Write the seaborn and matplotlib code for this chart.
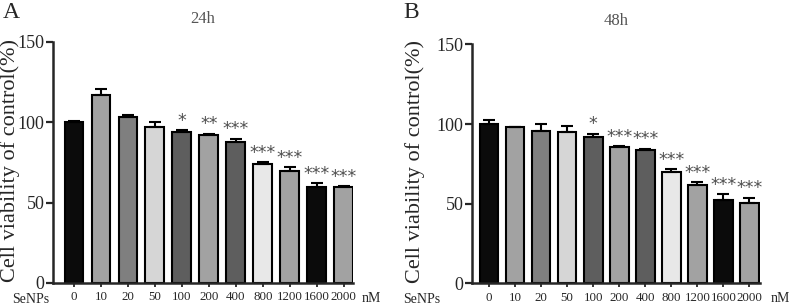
"""Two-panel bar chart of SeNPs cell viability at 24 h and 48 h."""

import matplotlib

matplotlib.use("Agg")
import matplotlib.pyplot as plt
import pandas as pd
import seaborn as sns

doses = ["0", "10", "20", "50", "100", "200", "400", "800", "1200", "1600", "2000"]
bar_colors = ["#0b0b0b", "#a2a2a2", "#7f7f7f", "#d6d6d6", "#5e5e5e", "#a2a2a2",
              "#5e5e5e", "#e8e8e8", "#a2a2a2", "#0b0b0b", "#a2a2a2"]

viability_24h = [100, 117, 103, 97, 94, 92, 87.7, 74, 70, 60, 59.5]
error_24h = [0.6, 3.8, 1.5, 3.0, 1.2, 1.0, 2.2, 1.3, 2.2, 2.0, 0.6]
stars_24h = ["", "", "", "", "*", "**", "***", "***", "***", "***", "***"]

viability_48h = [100.3, 98, 95.8, 95, 92, 85.4, 83.7, 69.7, 61.7, 52.3, 50.2]
error_48h = [2.2, 0.4, 4.0, 3.5, 2.0, 0.6, 0.8, 1.8, 1.8, 3.6, 3.4]
stars_48h = ["", "", "", "", "*", "***", "***", "***", "***", "***", "***"]

sns.set_theme(style="ticks")
plt.rcParams["font.family"] = ["Liberation Serif", "DejaVu Serif"]

W, H = 792, 306
fig = plt.figure(figsize=(W / 100, H / 100), dpi=100)

# letter, title, values, errors, stars, axes rect, xlim, bar width,
# ylabel x (axes coords), pixel x of panel letter, "SeNPs" and "nM"
panels = [
    ("A", "24h", viability_24h, error_24h, stars_24h,
     [0.0669, 0.0752, 0.379, 0.7876], (-0.78, 10.35), 0.7, -0.11, 3, 12, 362),
    ("B", "48h", viability_48h, error_48h, stars_48h,
     [0.596, 0.074, 0.364, 0.781], (-0.65, 10.42), 0.72, -0.163, 403, 403, 771),
]

for (letter, title, values, errors, stars, rect, xlim, width,
     label_x, letter_px, senps_px, nm_px) in panels:
    ax = fig.add_axes(rect)
    frame = pd.DataFrame({"dose": doses, "viability": values})
    sns.barplot(data=frame, x="dose", y="viability", hue="dose", palette=bar_colors,
                order=doses, width=width, edgecolor="black", linewidth=1.5,
                legend=False, ax=ax)
    xs = range(len(doses))
    ax.errorbar(xs, values, yerr=[[0] * len(errors), errors], fmt="none",
                ecolor="black", elinewidth=1.5, capsize=4, capthick=1.5, zorder=1)
    for x, v, e, s in zip(xs, values, errors, stars):
        if s:
            ax.text(x, v + e + 0.3, s, ha="center", va="bottom", fontsize=12.5,
                    color="#505050", fontfamily="DejaVu Sans")

    ax.set_xlim(*xlim)
    ax.set_ylim(0, 150)
    ax.set_yticks([0, 50, 100, 150])
    ax.set_xlabel("")
    ax.set_ylabel("Cell viability of control(%)", fontsize=16)
    ax.yaxis.set_label_coords(label_x, 0.51)
    ax.tick_params(axis="y", labelsize=13, width=1.6, length=5, pad=1)
    ax.tick_params(axis="x", labelsize=9.3, width=1.3, length=3, pad=3)
    for side in ("left", "bottom"):
        ax.spines[side].set_linewidth(1.8)
    sns.despine(ax=ax)

    ax.set_title(title, fontsize=12, color="#555555", pad=14)
    fig.text(senps_px / W, 1 - 299.5 / H, "SeNPs", fontsize=10, ha="left", va="center")
    fig.text(nm_px / W, 1 - 298 / H, "nM", fontsize=10, ha="left", va="center")
    fig.text(letter_px / W, 1 - 12 / H, letter, fontsize=17, ha="left", va="center")

fig.savefig("out.png", dpi=100)
